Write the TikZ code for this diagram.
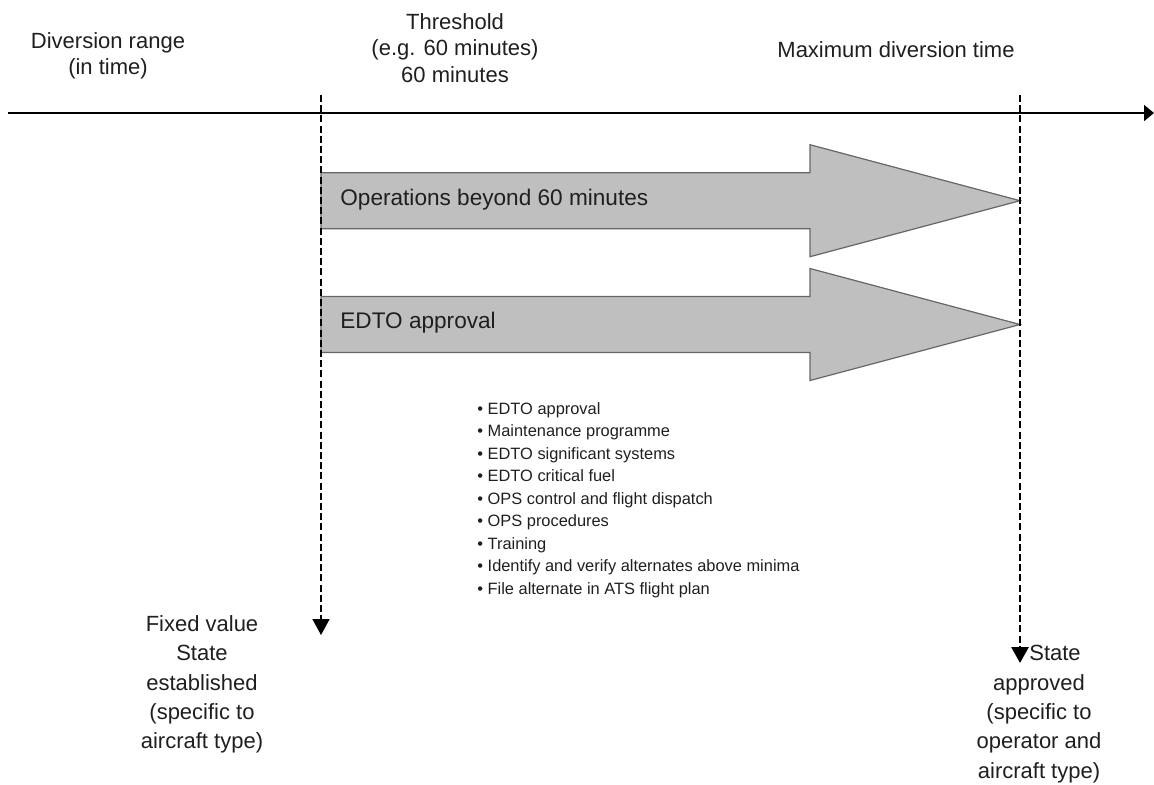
\documentclass[tikz,border=0pt]{standalone}
\usepackage{fontspec}
\setmainfont{Liberation Sans}
\usetikzlibrary{arrows.meta, positioning}

\begin{document}
\begin{tikzpicture}[x=0.5pt, y=-0.5pt,
        lbl/.style={inner sep=0pt, align=center, text=black!88, font=\fontsize{11}{13.3}\selectfont},
        lowlbl/.style={lbl, font=\fontsize{11}{14.7}\selectfont},
        barlbl/.style={inner sep=0pt, text=black!88, font=\fontsize{11.3}{13}\selectfont},
        listlbl/.style={inner sep=0pt, align=left, text=black!88, font=\fontsize{8.2}{11.25}\selectfont},
        bigarrow/.style={draw=black!60, line width=0.6pt, fill=black!25},
        dashline/.style={dash pattern=on 3.5pt off 1.6pt, -{Triangle[length=8pt, width=8.5pt]}}]
            \useasboundingbox (0,0) rectangle (1154,784);

            \coordinate (axis start) at (8,113);
            \coordinate (axis end) at (1154,113);
            \draw[line width=0.9pt, -{Triangle[length=5pt, width=8pt]}] (axis start) -- (axis end);

            \draw[bigarrow] (321,172.7) -- (810,172.7) -- (810,144.7) -- (1020,200.7)
                -- (810,256.7) -- (810,228.7) -- (321,228.7) -- cycle;
            \draw[bigarrow] (321,296.5) -- (810,296.5) -- (810,268.5) -- (1020,324.5)
                -- (810,380.5) -- (810,352.5) -- (321,352.5) -- cycle;

            \node[barlbl, anchor=base west] (ops) at (340,205) {Operations beyond 60 minutes};
            \node[barlbl, anchor=base west] (edto) at (340,328) {EDTO approval};

            \coordinate (thr top) at (321,95);
            \coordinate (thr end) at (321,635);
            \coordinate (max top) at (1020,95);
            \coordinate (max end) at (1020,663);
            \draw[dashline, line width=0.8pt] (thr top) -- (thr end);
            \draw[dashline, line width=1.4pt] (max top) -- (max end);

            \node[lbl, anchor=north] (range) at (108,32) {Diversion range\\(in time)};
            \node[lbl, anchor=north] (threshold) at (455,13) {Threshold\\(e.g. 60 minutes)\\60 minutes};
            \node[lbl, anchor=base] (maxtime) at (896,57) {Maximum diversion time};

            \node[listlbl, anchor=north west] (reqs) at (477,402) {\textbullet\ EDTO approval\\
                \textbullet\ Maintenance programme\\
                \textbullet\ EDTO significant systems\\
                \textbullet\ EDTO critical fuel\\
                \textbullet\ OPS control and flight dispatch\\
                \textbullet\ OPS procedures\\
                \textbullet\ Training\\
                \textbullet\ Identify and verify alternates above minima\\
                \textbullet\ File alternate in ATS flight plan};

            \node[lowlbl, anchor=north] (fixed) at (202,615) {Fixed value\\State\\established\\(specific to\\aircraft type)};
            \node[lowlbl, anchor=north] (approved) at (1039,645) {\hspace*{16pt}State\\approved\\(specific to\\operator and\\aircraft type)};
\end{tikzpicture}
\end{document}
